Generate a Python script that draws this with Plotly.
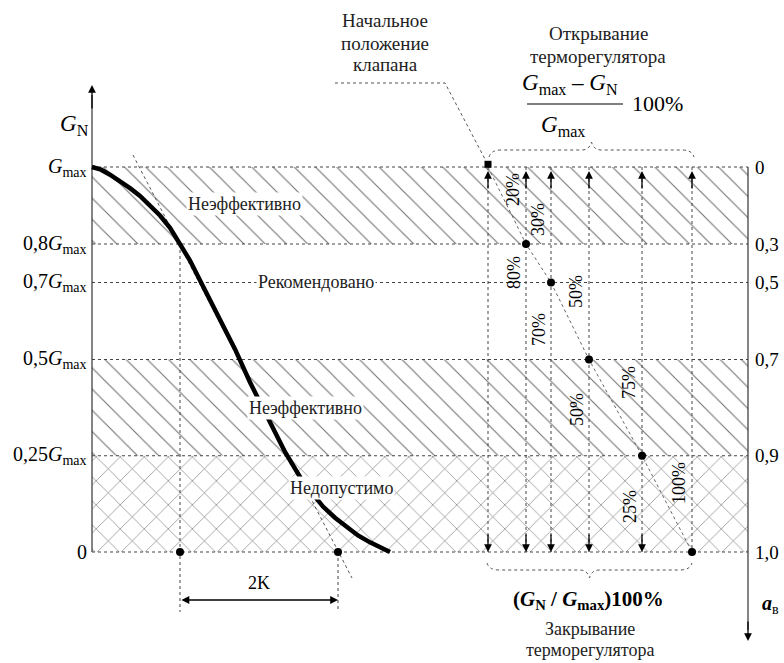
import plotly.graph_objects as go

# ---------------- data ----------------
levels_G = [1.0, 0.8, 0.7, 0.5, 0.25, 0.0]           # G_N / G_max levels
left_labels = ["<i>G</i><sub>max</sub>", "0,8<i>G</i><sub>max</sub>", "0,7<i>G</i><sub>max</sub>",
               "0,5<i>G</i><sub>max</sub>", "0,25<i>G</i><sub>max</sub>", "0"]
right_labels = ["0", "0,3", "0,5", "0,7", "0,9", "1,0"]  # a_в
valve_x = [488, 526, 551, 589, 642, 692]               # valve stroke positions
open_pct = ["20%", "30%", "50%", "75%", "100%"]
close_pct = ["80%", "70%", "50%", "25%"]
curve_x = [92, 101, 110, 120, 130, 140, 150, 160, 170, 180, 190, 203, 217, 235, 250, 267, 285,
           303, 323, 335, 347, 358, 370, 380, 390]
curve_G = [1.0, 0.993, 0.980, 0.964, 0.945, 0.925, 0.901, 0.874, 0.842, 0.80, 0.757, 0.690,
           0.621, 0.527, 0.441, 0.351, 0.260, 0.182, 0.118, 0.089, 0.064, 0.043, 0.025, 0.011, 0.0]
k_x = [180, 338]
zone_bounds = [(0.8, 1.0, "\\"), (0.25, 0.5, "\\"), (0.0, 0.25, "x")]
zone_texts = ["Неэффективно", "Рекомендовано", "Неэффективно", "Недопустимо"]

# ---------------- helpers (layout only) ----------------
P0, S = 552.0, 385.0
def G(p):
    return (P0 - p) / S

XL, XR = 92, 748
SERIF = "Liberation Serif"
fig = go.Figure()

# hatched zones
for lo, hi, shp in zone_bounds:
    fig.add_trace(go.Scatter(
        x=[XL, XR, XR, XL, XL], y=[lo, lo, hi, hi, lo], mode="lines", fill="toself",
        line=dict(width=0), fillcolor="white",
        fillpattern=dict(shape=shp, size=17 if shp == "x" else 15, solidity=0.07,
                         fgcolor="#707070", fgopacity=1, bgcolor="white"),
        hoverinfo="skip", showlegend=False))

# horizontal level lines
for g in levels_G:
    fig.add_trace(go.Scatter(x=[XL, XR], y=[g, g], mode="lines",
                             line=dict(color="#444", width=1, dash="dot"),
                             hoverinfo="skip", showlegend=False))

# valve vertical lines
for vx in valve_x:
    fig.add_trace(go.Scatter(x=[vx, vx], y=[levels_G[0], levels_G[-1]], mode="lines",
                             line=dict(color="#444", width=1, dash="dot"),
                             hoverinfo="skip", showlegend=False))

# vertical 2K extension lines
fig.add_trace(go.Scatter(x=[k_x[0], k_x[0]], y=[0.8, G(612)], mode="lines",
                         line=dict(color="#444", width=1, dash="dot"), hoverinfo="skip", showlegend=False))
fig.add_trace(go.Scatter(x=[k_x[1], k_x[1]], y=[0.0, G(612)], mode="lines",
                         line=dict(color="#444", width=1, dash="dot"), hoverinfo="skip", showlegend=False))

# tangent line
fig.add_trace(go.Scatter(x=[133, 352], y=[G(155), G(578)], mode="lines",
                         line=dict(color="#555", width=1, dash="dot"), hoverinfo="skip", showlegend=False))

# leader line through valve points
fig.add_trace(go.Scatter(x=valve_x, y=levels_G, mode="lines",
                         line=dict(color="#666", width=1, dash="dot"), hoverinfo="skip", showlegend=False))

# axes lines
fig.add_trace(go.Scatter(x=[XL, XL], y=[0.0, G(95)], mode="lines", line=dict(color="#333", width=1.2),
                         hoverinfo="skip", showlegend=False))
fig.add_trace(go.Scatter(x=[XR, XR], y=[1.0, G(630)], mode="lines", line=dict(color="#333", width=1.2),
                         hoverinfo="skip", showlegend=False))

# characteristic curve
fig.add_trace(go.Scatter(x=curve_x, y=curve_G, mode="lines", line=dict(color="black", width=4.5),
                         hoverinfo="skip", showlegend=False))

# dots
fig.add_trace(go.Scatter(x=valve_x[1:] + k_x, y=levels_G[1:] + [0.0, 0.0], mode="markers",
                         marker=dict(color="black", size=8), hoverinfo="skip", showlegend=False))
fig.add_trace(go.Scatter(x=[valve_x[0]], y=[levels_G[0] + 0.007], mode="markers",
                         marker=dict(color="black", size=7, symbol="square"), hoverinfo="skip", showlegend=False))

ann = []
def arrow(x, y, ax, ay, side="end"):
    ann.append(dict(x=x, y=y, ax=ax, ay=ay, xref="x", yref="y", axref="x", ayref="y", text="",
                    showarrow=True, arrowhead=2, arrowsize=1.2, arrowwidth=1.3, arrowcolor="black",
                    arrowside=side, standoff=0, startstandoff=0))

# valve arrows
for i, vx in enumerate(valve_x):
    arrow(vx, G(171), vx, G(190))
    if i < len(valve_x) - 1:
        arrow(vx, G(552), vx, G(533))
# axis arrows
arrow(XL, G(85), XL, G(110))
arrow(XR, G(641), XR, G(620))
# 2K dimension
arrow(k_x[1], G(600), k_x[0], G(600), side="end+start")

def txt(x, y, s, size=16, family=SERIF, xanchor="center", bg=None, angle=0, yanchor="middle", color="black"):
    d = dict(x=x, y=y, xref="x", yref="y", text=s, showarrow=False, xanchor=xanchor, yanchor=yanchor,
             font=dict(family=family, size=size, color=color), textangle=angle)
    if bg:
        d.update(bgcolor=bg, borderpad=1)
    ann.append(d)

# left / right labels
for g, s in zip(levels_G, left_labels):
    txt(89, g, s, size=20, xanchor="right")
for g, s in zip(levels_G, right_labels):
    txt(753, g, s, size=19, xanchor="left")
txt(74, G(125), "<i>G</i><sub>N</sub>", size=23)
txt(770, G(604), "<b><i>a</i></b><sub>в</sub>", size=20)

# zone texts
zone_pos = [(244, 204), (316, 282), (305, 408), (341, 488)]
for (zx, zy), s in zip(zone_pos, zone_texts):
    txt(zx, G(zy), s, size=18, bg="white", color="#222")

# percent labels
open_y = [190, 220, 292, 383, 483]
close_y = [273, 330, 410, 507]
for i, s in enumerate(open_pct):
    txt(valve_x[i + 1] - 13, G(open_y[i]), s, size=18, angle=-90)
for i, s in enumerate(close_pct):
    txt(valve_x[i + 1] - 12, G(close_y[i]), s, size=18, angle=-90)

# top texts
for s, p in zip(["Начальное", "положение", "клапана"], [20, 43, 64]):
    txt(385, G(p), s, size=19, color="#222")
for s, p in zip(["Открывание", "терморегулятора"], [33, 56]):
    txt(598, G(p), s, size=19, color="#222")
txt(570, G(84), "<i>G</i><sub>max</sub> – <i>G</i><sub>N</sub>", size=23)
txt(563, G(126), "<i>G</i><sub>max</sub>", size=23)
txt(657, G(103), "100%", size=22)
txt(588, G(600), "<b>(<i>G</i><sub>N</sub> / <i>G</i><sub>max</sub>)100%</b>", size=21)
for s, p in zip(["Закрывание", "терморегулятора"], [629, 650]):
    txt(590, G(p), s, size=18, color="#222")
txt(259, G(583), "2K", size=18)

shapes = []
# fraction bar
shapes.append(dict(type="line", x0=527, x1=623, y0=G(104), y1=G(104), xref="x", yref="y",
                   line=dict(color="black", width=1.2)))
# leader for "Начальное положение клапана"
shapes.append(dict(type="path", xref="x", yref="y",
                   path=f"M 335,{G(83)} L 445,{G(83)} L 486,{G(161)}",
                   line=dict(color="#555", width=1, dash="dot")))
# braces
def brace(x0, x1, p_end, p_mid, p_tip):
    xm = (x0 + x1) / 2
    return (f"M {x0},{G(p_end)} Q {x0+2},{G(p_mid)} {x0+12},{G(p_mid)} L {xm-10},{G(p_mid)} "
            f"Q {xm-2},{G(p_mid)} {xm},{G(p_tip)} Q {xm+2},{G(p_mid)} {xm+10},{G(p_mid)} "
            f"L {x1-12},{G(p_mid)} Q {x1-2},{G(p_mid)} {x1},{G(p_end)}")
shapes.append(dict(type="path", xref="x", yref="y", path=brace(valve_x[0] + 1, valve_x[-1] + 2, 157, 150, 142),
                   line=dict(color="#555", width=1, dash="dot")))
shapes.append(dict(type="path", xref="x", yref="y", path=brace(valve_x[0] - 1, valve_x[-1], 563, 570, 578),
                   line=dict(color="#555", width=1, dash="dot")))

fig.update_layout(
    width=784, height=663, margin=dict(l=0, r=0, t=0, b=0),
    paper_bgcolor="white", plot_bgcolor="white",
    xaxis=dict(range=[0, 784], visible=False, fixedrange=True),
    yaxis=dict(range=[G(663), G(0)], visible=False, fixedrange=True),
    annotations=ann, shapes=shapes, showlegend=False,
)
fig.write_html("out.html", post_script="document.body.style.margin='0';document.body.style.overflow='hidden';",
               config={"displayModeBar": False})
